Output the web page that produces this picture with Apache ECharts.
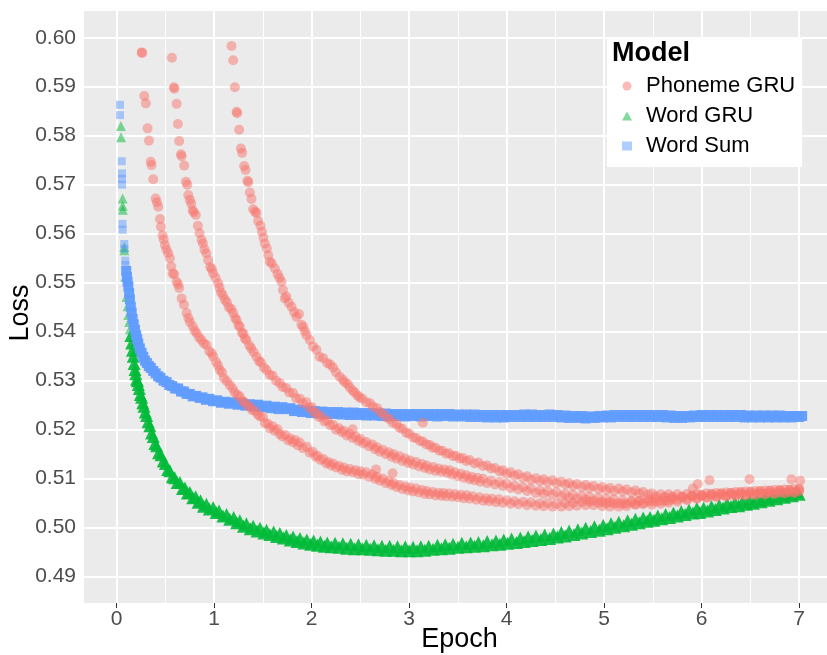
<!DOCTYPE html>
<html>
<head>
<meta charset="utf-8">
<script src="https://cdn.jsdelivr.net/npm/echarts@6/dist/echarts.min.js"></script>
<style>html,body{margin:0;padding:0;background:#fff}#c{width:827px;height:655px}</style>
</head>
<body>
<div id="c"></div>
<script>
// ---- tick labels ----
const xTicks = [0, 1, 2, 3, 4, 5, 6, 7];
const xMinorTicks = [0.5, 1.5, 2.5, 3.5, 4.5, 5.5, 6.5];
const yTicks = [0.49, 0.50, 0.51, 0.52, 0.53, 0.54, 0.55, 0.56, 0.57, 0.58, 0.59, 0.60];

// ---- Phoneme GRU (three runs) [epoch, loss] ----
const phonemeRun1 = [[0.256,0.5970],[0.262,0.5969],[0.283,0.5881],[0.300,0.5866],[0.317,0.5815],[0.331,0.5790],[0.350,0.5747],[0.357,0.5740],[0.375,0.5711],[0.400,0.5672],[0.412,0.5664],[0.426,0.5655],[0.444,0.5630],[0.454,0.5614],[0.471,0.5597],[0.482,0.5588],[0.495,0.5577],[0.510,0.5568],[0.529,0.5560],[0.546,0.5550],[0.560,0.5533],[0.574,0.5519],[0.590,0.5517],[0.615,0.5502],[0.630,0.5497],[0.641,0.5489],[0.666,0.5468],[0.690,0.5455],[0.717,0.5438],[0.735,0.5428],[0.751,0.5420],[0.780,0.5411],[0.800,0.5402],[0.820,0.5397],[0.845,0.5388],[0.870,0.5383],[0.895,0.5376],[0.922,0.5373],[0.950,0.5360],[0.975,0.5356],[0.990,0.5349],[1.020,0.5338],[1.040,0.5331],[1.058,0.5322],[1.080,0.5317],[1.100,0.5305],[1.130,0.5299],[1.160,0.5291],[1.190,0.5284],[1.210,0.5276],[1.240,0.5271],[1.263,0.5267],[1.290,0.5259],[1.310,0.5256],[1.340,0.5250],[1.366,0.5247],[1.390,0.5240],[1.420,0.5238],[1.445,0.5231],[1.470,0.5227],
[1.500,0.5226],[1.520,0.5213],[1.550,0.5212],[1.570,0.5203],[1.600,0.5207],[1.620,0.5198],[1.650,0.5201],[1.673,0.5191],[1.700,0.5186],[1.730,0.5189],[1.760,0.5178],[1.780,0.5182],[1.810,0.5174],[1.830,0.5179],[1.860,0.5168],[1.878,0.5174],[1.910,0.5162],[1.950,0.5165],[1.980,0.5153],[2.010,0.5155],[2.040,0.5145],[2.060,0.5147],[2.090,0.5138],[2.120,0.5140],[2.150,0.5131],[2.170,0.5134],[2.200,0.5127],[2.220,0.5131],[2.250,0.5123],[2.280,0.5126],[2.310,0.5118],[2.330,0.5123],[2.360,0.5115],[2.390,0.5120],[2.420,0.5113],[2.450,0.5117],[2.480,0.5109],[2.500,0.5115],[2.530,0.5108],[2.560,0.5113],[2.590,0.5104],[2.620,0.5109],[2.650,0.5100],[2.670,0.5104],[2.700,0.5096],[2.730,0.5100],[2.760,0.5091],[2.790,0.5095],[2.820,0.5087],[2.840,0.5091],[2.870,0.5083],[2.900,0.5087],[2.930,0.5079],[2.960,0.5084],[2.990,0.5076],[3.010,0.5082],[3.040,0.5074],[3.070,0.5080],[3.100,0.5072],[3.130,0.5077],[3.160,0.5069],[3.180,0.5075],[3.210,0.5068],[3.240,0.5073],[3.270,0.5066],[3.300,0.5071],[3.330,0.5065],[3.350,0.5071],[3.380,0.5064],[3.410,0.5070],[3.440,0.5063],[3.470,0.5068],[3.500,0.5062],[3.530,0.5067],[3.560,0.5060],[3.590,0.5066],[3.620,0.5059],[3.650,0.5064],[3.690,0.5057],[3.720,0.5062],[3.760,0.5055],[3.790,0.5060],[3.820,0.5054],[3.850,0.5059],[3.890,0.5052],[3.920,0.5058],[3.960,0.5051],[4.000,0.5056],[4.040,0.5049],[4.080,0.5054],[4.120,0.5048],[4.170,0.5053],[4.210,0.5046],[4.250,0.5052],[4.300,0.5045],[4.340,0.5050],[4.380,0.5044],[4.420,0.5050],[4.470,0.5043],[4.510,0.5049],[4.560,0.5043],[4.600,0.5050],[4.640,0.5044],[4.680,0.5051],[4.720,0.5045],[4.770,0.5052],[4.810,0.5046],[4.850,0.5053],[4.890,0.5046],[4.940,0.5051],[4.980,0.5044],[5.020,0.5050],[5.060,0.5043],[5.100,0.5049],[5.150,0.5043],[5.190,0.5049],[5.230,0.5044],[5.280,0.5052],[5.320,0.5047],[5.360,0.5055],[5.400,0.5050],[5.450,0.5058],[5.490,0.5053],[5.530,0.5060],[5.580,0.5054],[5.620,0.5061],[5.660,0.5055],[5.700,0.5062],[5.750,0.5057],[5.800,0.5063],[5.850,0.5058],[5.900,0.5065],[5.950,0.5060],[6.000,0.5067],[6.050,0.5062],[6.100,0.5069],[6.150,0.5063],[6.200,0.5070],[6.250,0.5064],[6.300,0.5071],[6.350,0.5065],[6.400,0.5072],[6.450,0.5066],[6.500,0.5073],[6.550,0.5067],[6.600,0.5074],[6.650,0.5068],[6.700,0.5075],[6.750,0.5069],[6.800,0.5076],[6.850,0.5070],[6.900,0.5077],[6.950,0.5071],[7.000,0.5078]];

const phonemeRun2 = [[0.567,0.5959],[0.587,0.5899],[0.592,0.5896],[0.615,0.5865],[0.628,0.5824],[0.641,0.5789],[0.660,0.5762],[0.666,0.5758],[0.693,0.5739],[0.710,0.5706],[0.725,0.5700],[0.734,0.5679],[0.751,0.5669],[0.765,0.5661],[0.779,0.5648],[0.790,0.5644],[0.812,0.5638],[0.833,0.5616],[0.850,0.5601],[0.871,0.5587],[0.885,0.5580],[0.900,0.5568],[0.920,0.5560],[0.939,0.5546],[0.960,0.5532],[0.975,0.5528],[0.990,0.5519],[1.015,0.5510],[1.041,0.5499],[1.055,0.5490],[1.070,0.5480],[1.090,0.5474],[1.110,0.5465],[1.130,0.5460],[1.150,0.5450],[1.175,0.5446],[1.195,0.5438],[1.215,0.5428],[1.230,0.5424],[1.250,0.5413],[1.263,0.5410],[1.285,0.5398],[1.300,0.5396],[1.315,0.5386],[1.330,0.5383],[1.360,0.5372],[1.380,0.5366],[1.405,0.5358],[1.434,0.5349],[1.460,0.5340],[1.480,0.5337],[1.510,0.5327],[1.537,0.5322],[1.570,0.5312],[1.600,0.5310],[1.635,0.5300],[1.673,0.5295],[1.700,0.5287],[1.740,0.5285],[1.770,0.5276],[1.810,0.5275],[1.840,0.5264],[1.880,0.5263],[1.910,0.5254],[1.947,0.5256],[1.975,0.5245],[2.000,0.5246],[2.025,0.5235],[2.049,0.5234],[2.075,0.5226],[2.100,0.5227],[2.130,0.5217],[2.160,0.5219],[2.190,0.5209],[2.220,0.5210],[2.250,0.5200],[2.280,0.5203],[2.310,0.5195],[2.330,0.5198],[2.360,0.5188],[2.390,0.5192],[2.420,0.5183],[2.450,0.5186],[2.480,0.5177],[2.500,0.5181],[2.530,0.5172],[2.560,0.5175],[2.590,0.5166],[2.620,0.5170],[2.650,0.5160],[2.670,0.5164],[2.700,0.5155],[2.730,0.5159],[2.760,0.5150],[2.790,0.5154],[2.820,0.5145],[2.840,0.5150],[2.870,0.5141],[2.900,0.5146],[2.930,0.5136],[2.960,0.5141],[2.990,0.5132],[3.010,0.5137],[3.040,0.5129],[3.070,0.5134],[3.100,0.5125],[3.130,0.5130],[3.160,0.5122],[3.180,0.5127],[3.210,0.5119],[3.245,0.5124],[3.270,0.5116],[3.300,0.5121],[3.330,0.5114],[3.360,0.5119],[3.390,0.5112],[3.415,0.5117],[3.440,0.5108],[3.470,0.5113],[3.500,0.5105],[3.530,0.5110],[3.560,0.5102],[3.586,0.5107],[3.620,0.5099],[3.640,0.5104],[3.670,0.5097],[3.700,0.5102],[3.730,0.5094],[3.756,0.5100],[3.800,0.5091],[3.840,0.5096],[3.880,0.5088],[3.927,0.5093],[3.960,0.5085],[4.000,0.5090],[4.040,0.5081],[4.080,0.5086],[4.120,0.5078],[4.166,0.5083],[4.210,0.5075],[4.250,0.5080],[4.300,0.5071],[4.340,0.5076],[4.380,0.5069],[4.420,0.5075],[4.470,0.5067],[4.510,0.5073],[4.560,0.5064],[4.600,0.5069],[4.640,0.5061],[4.680,0.5067],[4.720,0.5059],[4.770,0.5065],[4.810,0.5057],[4.850,0.5063],[4.890,0.5055],[4.940,0.5061],[4.980,0.5053],[5.020,0.5059],[5.060,0.5052],[5.100,0.5058],[5.150,0.5050],[5.190,0.5056],[5.230,0.5049],[5.280,0.5055],[5.320,0.5048],[5.360,0.5054],[5.400,0.5048],[5.450,0.5054],[5.490,0.5047],[5.530,0.5053],[5.580,0.5049],[5.620,0.5055],[5.660,0.5051],[5.700,0.5058],[5.750,0.5053],[5.800,0.5061],[5.850,0.5056],[5.900,0.5064],[5.950,0.5059],[6.000,0.5066],[6.050,0.5061],[6.100,0.5068],[6.150,0.5063],[6.200,0.5070],[6.250,0.5064],[6.300,0.5071],[6.350,0.5066],[6.400,0.5073],[6.450,0.5067],[6.500,0.5074],[6.550,0.5068],[6.600,0.5075],[6.650,0.5069],[6.700,0.5076],[6.750,0.5070],[6.800,0.5077],[6.850,0.5071],[6.900,0.5078],[6.950,0.5072],[7.000,0.5079]];

const phonemeRun3 = [[1.178,0.5983],[1.195,0.5954],[1.212,0.5899],[1.230,0.5849],[1.236,0.5846],[1.256,0.5812],[1.274,0.5774],[1.287,0.5765],[1.308,0.5738],[1.322,0.5730],[1.342,0.5708],[1.350,0.5705],[1.366,0.5684],[1.383,0.5671],[1.400,0.5650],[1.420,0.5645],[1.434,0.5642],[1.451,0.5626],[1.475,0.5616],[1.490,0.5604],[1.505,0.5592],[1.520,0.5580],[1.540,0.5570],[1.555,0.5556],[1.571,0.5543],[1.590,0.5539],[1.622,0.5529],[1.650,0.5518],[1.670,0.5510],[1.690,0.5502],[1.705,0.5485],[1.724,0.5468],[1.740,0.5472],[1.765,0.5459],[1.793,0.5451],[1.820,0.5440],[1.844,0.5430],[1.870,0.5436],[1.895,0.5414],[1.912,0.5410],[1.930,0.5401],[1.947,0.5393],[1.980,0.5383],[2.014,0.5370],[2.049,0.5363],[2.080,0.5349],[2.117,0.5346],[2.160,0.5336],[2.190,0.5333],[2.220,0.5327],[2.250,0.5317],[2.288,0.5308],[2.320,0.5302],[2.340,0.5297],[2.370,0.5293],[2.390,0.5286],[2.420,0.5280],[2.440,0.5276],[2.470,0.5270],[2.490,0.5266],[2.520,0.5263],[2.560,0.5256],[2.600,0.5254],[2.630,0.5247],[2.670,0.5244],[2.700,0.5236],[2.730,0.5233],[2.766,0.5225],[2.800,0.5222],[2.830,0.5214],[2.870,0.5211],[2.900,0.5204],[2.930,0.5202],[2.970,0.5194],[3.000,0.5192],[3.040,0.5184],[3.070,0.5183],[3.110,0.5177],[3.140,0.5176],[3.176,0.5170],[3.210,0.5169],[3.240,0.5163],[3.270,0.5163],[3.310,0.5157],[3.340,0.5157],[3.380,0.5151],[3.410,0.5152],[3.450,0.5146],[3.480,0.5147],[3.520,0.5141],[3.550,0.5142],[3.586,0.5136],[3.620,0.5138],[3.670,0.5131],[3.710,0.5133],[3.756,0.5126],[3.800,0.5127],[3.840,0.5121],[3.880,0.5122],[3.927,0.5115],[3.960,0.5117],[4.000,0.5110],[4.040,0.5113],[4.080,0.5106],[4.120,0.5109],[4.166,0.5102],[4.210,0.5105],[4.250,0.5098],[4.300,0.5101],[4.340,0.5095],[4.380,0.5099],[4.420,0.5093],[4.470,0.5097],[4.510,0.5091],[4.560,0.5094],[4.600,0.5088],[4.640,0.5091],[4.680,0.5085],[4.720,0.5089],[4.770,0.5083],[4.810,0.5087],[4.850,0.5081],[4.890,0.5085],[4.940,0.5079],[4.980,0.5083],[5.020,0.5077],[5.060,0.5081],[5.100,0.5075],[5.150,0.5080],[5.190,0.5074],[5.230,0.5078],[5.280,0.5072],[5.320,0.5076],[5.360,0.5070],[5.400,0.5073],[5.450,0.5067],[5.490,0.5070],[5.530,0.5064],[5.580,0.5068],[5.620,0.5063],[5.660,0.5068],[5.700,0.5063],[5.750,0.5068],[5.800,0.5063],[5.850,0.5069],[5.900,0.5064],[5.950,0.5069],[6.000,0.5064],[6.050,0.5070],[6.100,0.5065],[6.150,0.5071],[6.200,0.5066],[6.250,0.5072],[6.300,0.5067],[6.350,0.5073],[6.400,0.5068],[6.450,0.5074],[6.500,0.5069],[6.550,0.5075],[6.600,0.5070],[6.650,0.5076],[6.700,0.5071],[6.750,0.5077],[6.800,0.5072],[6.850,0.5078],[6.900,0.5073],[6.950,0.5079],[7.000,0.5074]];

const phonemeStray = [[2.42,0.5201],[2.66,0.5119],[2.83,0.5111],[3.14,0.5214],[5.91,0.5080],[5.96,0.5089],[6.08,0.5097],[6.49,0.5099],[6.92,0.5099],[7.01,0.5096]];

// ---- Word GRU [epoch, loss] ----
const wordGruEarly = [[0.044,0.5820],[0.045,0.5797],[0.061,0.5672],[0.062,0.5657],[0.063,0.5649],[0.078,0.5573],[0.079,0.5566],[0.088,0.5512],[0.100,0.5471],[0.112,0.5452],[0.119,0.5434],[0.128,0.5420],[0.136,0.5405]];
const wordGruMain = [[0.145,0.5392],[0.154,0.5377],[0.162,0.5362],[0.170,0.5350],[0.179,0.5335],[0.188,0.5323],[0.196,0.5314],[0.205,0.5303],[0.214,0.5300],[0.222,0.5292],[0.232,0.5284],[0.243,0.5272],[0.256,0.5266],[0.268,0.5255],[0.280,0.5248],[0.293,0.5236],[0.307,0.5229],[0.322,0.5216],[0.340,0.5208],[0.358,0.5193],[0.375,0.5186],[0.392,0.5172],[0.410,0.5167],[0.430,0.5153],[0.455,0.5149],[0.478,0.5136],[0.500,0.5131],[0.523,0.5119],[0.546,0.5116],[0.570,0.5104],[0.595,0.5102],[0.620,0.5092],[0.649,0.5092],[0.675,0.5080],[0.700,0.5081],[0.725,0.5071],[0.751,0.5072],[0.780,0.5061],[0.810,0.5063],[0.835,0.5052],[0.860,0.5055],[0.890,0.5044],[0.920,0.5048],[0.950,0.5038],[0.990,0.5041],[1.020,0.5031],[1.050,0.5034],[1.090,0.5024],[1.127,0.5027],[1.160,0.5017],[1.200,0.5021],[1.230,0.5010],[1.263,0.5014],[1.300,0.5003],[1.330,0.5008],[1.370,0.4998],[1.400,0.5003],[1.440,0.4993],[1.470,0.4999],[1.510,0.4989],[1.537,0.4995],[1.570,0.4986],[1.610,0.4991],[1.640,0.4982],[1.673,0.4988],[1.710,0.4979],[1.740,0.4984],[1.780,0.4975],[1.810,0.4981],[1.850,0.4972],[1.880,0.4978],[1.920,0.4969],[1.950,0.4975],[1.990,0.4966],[2.020,0.4973],[2.060,0.4964],[2.090,0.4971],[2.130,0.4962],[2.160,0.4969],[2.200,0.4961],[2.240,0.4968],[2.280,0.4960],[2.320,0.4967],[2.360,0.4958],[2.400,0.4966],[2.440,0.4957],[2.480,0.4965],[2.520,0.4957],[2.560,0.4964],[2.600,0.4956],[2.640,0.4963],[2.680,0.4955],[2.720,0.4962],[2.760,0.4954],[2.800,0.4962],[2.840,0.4954],[2.880,0.4961],[2.920,0.4953],[2.960,0.4961],[3.000,0.4953],[3.040,0.4960],[3.080,0.4953],[3.120,0.4961],[3.160,0.4954],[3.200,0.4962],[3.245,0.4956],[3.290,0.4964],[3.330,0.4957],[3.370,0.4965],[3.410,0.4958],[3.450,0.4966],[3.500,0.4960],[3.540,0.4968],[3.586,0.4961],[3.630,0.4969],[3.670,0.4962],[3.710,0.4970],[3.760,0.4963],[3.800,0.4972],[3.850,0.4965],[3.890,0.4973],[3.930,0.4966],[3.970,0.4975],[4.010,0.4968],[4.050,0.4977],[4.100,0.4970],[4.140,0.4979],[4.180,0.4972],[4.220,0.4981],[4.260,0.4974],[4.300,0.4983],[4.350,0.4976],[4.390,0.4985],[4.440,0.4978],[4.480,0.4987],[4.520,0.4981],[4.560,0.4990],[4.600,0.4983],[4.640,0.4993],[4.690,0.4986],[4.730,0.4996],[4.770,0.4989],[4.810,0.4999],[4.860,0.4992],[4.900,0.5002],[4.950,0.4995],[4.990,0.5005],[5.030,0.4998],[5.070,0.5008],[5.110,0.5001],[5.150,0.5011],[5.200,0.5004],[5.240,0.5014],[5.280,0.5007],[5.320,0.5017],[5.360,0.5010],[5.400,0.5020],[5.440,0.5013],[5.470,0.5021],[5.510,0.5015],[5.550,0.5024],[5.590,0.5018],[5.630,0.5027],[5.670,0.5021],[5.710,0.5030],[5.750,0.5024],[5.790,0.5033],[5.830,0.5027],[5.870,0.5036],[5.910,0.5030],[5.950,0.5039],[5.980,0.5031],[6.020,0.5040],[6.060,0.5034],[6.100,0.5043],[6.140,0.5037],[6.180,0.5046],[6.220,0.5040],[6.260,0.5049],[6.300,0.5043],[6.340,0.5051],[6.380,0.5045],[6.420,0.5054],[6.460,0.5048],[6.490,0.5055],[6.530,0.5050],[6.570,0.5058],[6.610,0.5053],[6.650,0.5061],[6.690,0.5056],[6.730,0.5064],[6.770,0.5059],[6.810,0.5067],[6.850,0.5062],[6.890,0.5070],[6.930,0.5065],[6.970,0.5073],[7.000,0.5068]];

// ---- Word Sum [epoch, loss] ----
const wordSumEarly = [[0.034,0.5863],[0.034,0.5842],[0.052,0.5748],[0.054,0.5723],[0.054,0.5712],[0.055,0.5700],[0.060,0.5620],[0.061,0.5608],[0.078,0.5579],[0.080,0.5569],[0.088,0.5545],[0.090,0.5536]];
const wordSumMain = [[0.098,0.5524],[0.105,0.5512],[0.112,0.5502],[0.120,0.5492],[0.128,0.5479],[0.136,0.5466],[0.145,0.5451],[0.154,0.5439],[0.164,0.5426],[0.175,0.5415],[0.188,0.5404],[0.200,0.5393],[0.211,0.5385],[0.222,0.5376],[0.238,0.5366],[0.255,0.5357],[0.273,0.5349],[0.290,0.5341],[0.310,0.5336],[0.330,0.5330],[0.350,0.5326],[0.375,0.5320],[0.400,0.5315],[0.425,0.5309],[0.450,0.5306],[0.480,0.5300],[0.512,0.5297],[0.540,0.5291],[0.570,0.5289],[0.600,0.5284],[0.630,0.5284],[0.660,0.5278],[0.690,0.5278],[0.717,0.5273],[0.750,0.5273],[0.780,0.5268],[0.815,0.5269],[0.850,0.5265],[0.880,0.5266],[0.915,0.5261],[0.950,0.5263],[0.990,0.5258],[1.030,0.5260],[1.070,0.5255],[1.110,0.5257],[1.150,0.5253],[1.195,0.5256],[1.240,0.5251],[1.280,0.5254],[1.320,0.5249],[1.366,0.5252],[1.410,0.5247],[1.450,0.5251],[1.490,0.5246],[1.537,0.5249],[1.580,0.5244],[1.620,0.5247],[1.660,0.5242],[1.700,0.5246],[1.742,0.5242],[1.780,0.5244],[1.820,0.5238],[1.860,0.5241],[1.900,0.5236],[1.947,0.5239],[1.990,0.5234],[2.030,0.5238],[2.070,0.5233],[2.110,0.5237],[2.150,0.5232],[2.190,0.5236],[2.230,0.5232],[2.270,0.5236],[2.310,0.5231],[2.350,0.5235],[2.390,0.5230],[2.430,0.5235],[2.470,0.5230],[2.510,0.5234],[2.560,0.5229],[2.600,0.5234],[2.640,0.5229],[2.680,0.5233],[2.720,0.5228],[2.760,0.5233],[2.800,0.5228],[2.840,0.5232],[2.880,0.5228],[2.920,0.5232],[2.960,0.5227],[3.000,0.5232],[3.040,0.5228],[3.080,0.5232],[3.120,0.5227],[3.160,0.5232],[3.200,0.5228],[3.245,0.5232],[3.290,0.5227],[3.330,0.5232],[3.370,0.5228],[3.410,0.5232],[3.450,0.5227],[3.500,0.5231],[3.540,0.5227],[3.586,0.5231],[3.630,0.5226],[3.670,0.5231],[3.710,0.5226],[3.760,0.5230],[3.800,0.5225],[3.850,0.5230],[3.890,0.5225],[3.930,0.5230],[3.970,0.5225],[4.010,0.5230],[4.050,0.5226],[4.100,0.5230],[4.140,0.5226],[4.180,0.5231],[4.220,0.5226],[4.260,0.5231],[4.300,0.5226],[4.350,0.5230],[4.390,0.5226],[4.440,0.5231],[4.480,0.5226],[4.520,0.5230],[4.560,0.5225],[4.600,0.5229],[4.640,0.5224],[4.690,0.5228],[4.730,0.5224],[4.770,0.5228],[4.810,0.5223],[4.860,0.5227],[4.900,0.5224],[4.950,0.5228],[4.990,0.5225],[5.030,0.5229],[5.070,0.5225],[5.110,0.5230],[5.150,0.5226],[5.200,0.5230],[5.240,0.5226],[5.280,0.5230],[5.320,0.5226],[5.360,0.5230],[5.400,0.5226],[5.440,0.5230],[5.480,0.5226],[5.520,0.5230],[5.560,0.5226],[5.600,0.5230],[5.640,0.5225],[5.680,0.5229],[5.720,0.5224],[5.760,0.5228],[5.800,0.5224],[5.840,0.5228],[5.880,0.5225],[5.920,0.5229],[5.960,0.5226],[6.000,0.5230],[6.040,0.5226],[6.080,0.5230],[6.120,0.5226],[6.160,0.5230],[6.200,0.5226],[6.240,0.5230],[6.280,0.5226],[6.320,0.5230],[6.360,0.5226],[6.400,0.5230],[6.440,0.5225],[6.480,0.5229],[6.520,0.5225],[6.560,0.5229],[6.600,0.5225],[6.640,0.5229],[6.680,0.5225],[6.720,0.5229],[6.760,0.5225],[6.800,0.5229],[6.840,0.5225],[6.880,0.5228],[6.920,0.5225],[6.960,0.5228],[7.000,0.5226],[7.030,0.5228]];

// ---- styling ----
const FONT = "'Liberation Sans', Arial, Helvetica, sans-serif";
const RED = '#F8766D', GREEN = '#00BA38', BLUE = '#619CFF';

const chart = echarts.init(document.getElementById('c'), null, {renderer: 'canvas'});

const gridLines = [].concat(
  xTicks.map(v => ({xAxis: v, lineStyle: {width: 2}})),
  xMinorTicks.map(v => ({xAxis: v, lineStyle: {width: 1}})),
  yTicks.map(v => ({yAxis: v, lineStyle: {width: 2}}))
);

function scatter(name, data, symbol, size, color, opacity, z) {
  return {
    name: name, type: 'scatter', data: data, symbol: symbol, symbolSize: size,
    itemStyle: {color: color, opacity: opacity}, z: z, silent: true,
    emphasis: {disabled: true}, animation: false
  };
}

chart.setOption({
  animation: false,
  backgroundColor: '#fff',
  grid: {left: 84, right: 0, top: 11, bottom: 52, show: true, backgroundColor: '#EBEBEB', borderWidth: 0,
    outerBoundsMode: 'none', containLabel: false},
  title: {
    text: 'Model', left: 612, top: 40, padding: 0, z: 10,
    textStyle: {fontFamily: FONT, fontSize: 27, fontWeight: 'bold', color: '#000'}
  },
  legend: {
    orient: 'vertical', left: 607, top: 37, z: 8,
    padding: [38, 7, 10, 15], backgroundColor: '#fff',
    itemWidth: 10, itemHeight: 9, itemGap: 8, selectedMode: false,
    textStyle: {fontFamily: FONT, fontSize: 22, color: '#000', padding: [0, 0, 0, 9]},
    data: [
      {name: 'Phoneme GRU', icon: 'circle', itemStyle: {color: RED, opacity: 0.5}},
      {name: 'Word GRU', icon: 'triangle', itemStyle: {color: GREEN, opacity: 0.5}},
      {name: 'Word Sum', icon: 'rect', itemStyle: {color: BLUE, opacity: 0.5}}
    ]
  },
  xAxis: {
    type: 'value', min: -0.335, max: 7.285,
    splitLine: {show: false}, axisLine: {show: false},
    axisTick: {show: true, customValues: xTicks, length: 5, lineStyle: {color: '#333', width: 1}},
    axisLabel: {customValues: xTicks, fontFamily: FONT, fontSize: 21, color: '#4D4D4D', margin: 6},
    name: 'Epoch', nameLocation: 'middle', nameGap: 23, nameMoveOverlap: false,
    nameTextStyle: {fontFamily: FONT, fontSize: 27, color: '#000', padding: [0, 0, 0, 8]}
  },
  yAxis: {
    type: 'value', min: 0.48463, max: 0.60545,
    splitLine: {show: false}, axisLine: {show: false},
    axisTick: {show: true, customValues: yTicks, length: 5, lineStyle: {color: '#333', width: 1}},
    axisLabel: {customValues: yTicks, fontFamily: FONT, fontSize: 21, color: '#4D4D4D', margin: 8,
      formatter: v => Number(v).toFixed(2)},
    name: 'Loss', nameLocation: 'middle', nameGap: 50, nameRotate: 90, nameMoveOverlap: false,
    nameTextStyle: {fontFamily: FONT, fontSize: 27, color: '#000', padding: [0, 12, 0, 0]}
  },
  series: [
    scatter('Word GRU', wordGruEarly, 'triangle', 10, GREEN, 0.5, 3),
    scatter('Word GRU', wordGruMain, 'triangle', 13, GREEN, 0.9, 3),
    scatter('Word Sum', wordSumEarly, 'rect', 8, BLUE, 0.5, 4),
    scatter('Word Sum', wordSumMain, 'rect', 10, BLUE, 0.95, 4),
    scatter('Phoneme GRU', [].concat(phonemeRun1, phonemeRun2, phonemeRun3, phonemeStray), 'circle', 10, RED, 0.5, 5),
    {
      type: 'scatter', data: [], z: 1, silent: true,
      markLine: {
        silent: true, z: 1, symbol: ['none', 'none'], animation: false,
        label: {show: false},
        lineStyle: {color: '#FFFFFF', type: 'solid'},
        emphasis: {disabled: true},
        data: gridLines
      }
    }
  ]
});
</script>
</body>
</html>
